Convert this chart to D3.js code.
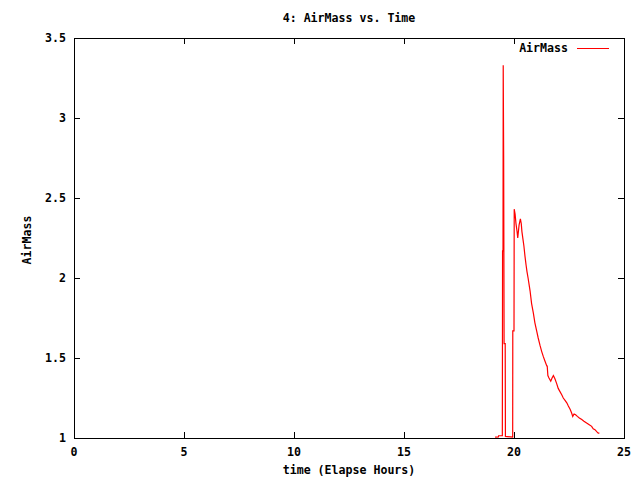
<!DOCTYPE html>
<html><head><meta charset="utf-8">
<script src="https://cdn.jsdelivr.net/npm/d3@7"></script>
<style>body{margin:0;background:#fff}svg{display:block}text{font-family:"DejaVu Sans Mono",monospace;font-size:11.6px;font-weight:bold;fill:#000}</style>
</head><body>
<script>
const title = "4: AirMass vs. Time";
const xLabel = "time (Elapse Hours)";
const yLabel = "AirMass";
const seriesName = "AirMass";
const xTicks = [0, 5, 10, 15, 20, 25];
const yTicks = [1, 1.5, 2, 2.5, 3, 3.5];
const hours = [19.14,19.29,19.30,19.47,19.48,19.50,19.51,19.53,19.55,19.60,19.61,19.94,19.945,20.0,20.01,20.05,20.09,20.14,20.17,20.23,20.29,20.33,20.36,20.41,20.45,20.50,20.55,20.59,20.64,20.73,20.80,20.88,20.95,21.03,21.10,21.18,21.26,21.33,21.41,21.49,21.51,21.54,21.59,21.67,21.73,21.79,21.86,21.94,22.01,22.09,22.17,22.24,22.32,22.40,22.47,22.55,22.62,22.67,22.73,22.80,22.88,22.97,23.08,23.18,23.30,23.42,23.53,23.60,23.68,23.76,23.83,23.88];
const airmass = [1.005,1.006,1.014,1.014,2.17,2.17,3.33,2.75,1.59,1.59,1.01,1.005,1.67,1.67,2.43,2.40,2.34,2.29,2.25,2.33,2.37,2.34,2.29,2.24,2.20,2.135,2.08,2.04,2.00,1.92,1.84,1.78,1.72,1.67,1.625,1.58,1.54,1.51,1.48,1.45,1.45,1.39,1.375,1.355,1.375,1.39,1.37,1.34,1.31,1.29,1.27,1.25,1.235,1.22,1.20,1.18,1.156,1.135,1.15,1.145,1.135,1.125,1.115,1.105,1.094,1.083,1.073,1.058,1.052,1.04,1.03,1.03];

const W = 640, H = 480, L = 74, R = 624, T = 38, B = 438;
const svg = d3.select("body").append("svg").attr("width", W).attr("height", H);
const x = d3.scaleLinear().domain([0, 25]).range([L, R]);
const y = d3.scaleLinear().domain([1, 3.5]).range([B, T]);

const g = svg.append("g").attr("shape-rendering", "crispEdges");
xTicks.forEach(t => {
  const px = Math.round(x(t)) + 0.5;
  g.append("line").attr("x1", px).attr("x2", px).attr("y1", B).attr("y2", B - 6).attr("stroke", "#000");
  g.append("line").attr("x1", px).attr("x2", px).attr("y1", T).attr("y2", T + 6).attr("stroke", "#000");
  svg.append("text").attr("x", x(t)).attr("y", B + 18).attr("text-anchor", "middle").text(t);
});
yTicks.forEach(t => {
  const py = Math.round(y(t)) + 0.5;
  g.append("line").attr("x1", L).attr("x2", L + 6).attr("y1", py).attr("y2", py).attr("stroke", "#000");
  g.append("line").attr("x1", R).attr("x2", R - 6).attr("y1", py).attr("y2", py).attr("stroke", "#000");
  svg.append("text").attr("x", 66).attr("y", y(t) + 4).attr("text-anchor", "end").text(t);
});
g.append("rect").attr("x", L + 0.5).attr("y", T + 0.5).attr("width", R - L).attr("height", B - T)
  .attr("fill", "none").attr("stroke", "#000");

const data = hours.map((h, i) => [h, airmass[i]]);
svg.append("path").datum(data)
  .attr("d", d3.line().x(d => x(d[0])).y(d => y(d[1])))
  .attr("fill", "none").attr("stroke", "#ff0000").attr("stroke-width", 1.2);

svg.append("text").attr("x", 349).attr("y", 22).attr("text-anchor", "middle").text(title);
svg.append("text").attr("x", 349).attr("y", 474).attr("text-anchor", "middle").text(xLabel);
svg.append("text").attr("transform", "translate(31,240) rotate(-90)").attr("text-anchor", "middle").text(yLabel);
svg.append("text").attr("x", 568).attr("y", 52).attr("text-anchor", "end").text(seriesName);
svg.append("line").attr("x1", 577).attr("x2", 609).attr("y1", 48.5).attr("y2", 48.5).attr("stroke", "#ff0000").attr("shape-rendering", "crispEdges");
</script>
</body></html>
